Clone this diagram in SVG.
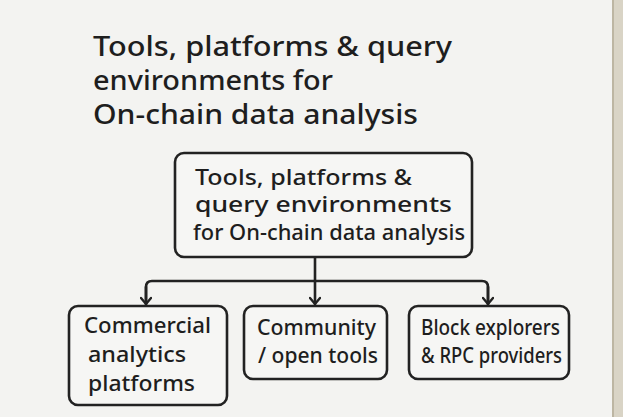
<svg xmlns="http://www.w3.org/2000/svg" width="623" height="417" viewBox="0 0 623 417">
<defs>
<marker id="ah" markerWidth="12" markerHeight="12" refX="9" refY="6" orient="auto" markerUnits="userSpaceOnUse" viewBox="0 0 12 12">
<path d="M3,1 L9,6 L3,11" fill="none" stroke="#222" stroke-width="2.4" stroke-linecap="round" stroke-linejoin="round"/>
</marker>
</defs>
<style>
.t{font-family:"Noto Sans","Open Sans",sans-serif;fill:#1e1e1e;font-weight:500}
.title{font-size:26.5px}
.lbl{font-size:22px}
.box{fill:#f6f6f4;stroke:#222;stroke-width:2.6}
.con{fill:none;stroke:#222;stroke-width:2.6;stroke-linejoin:round;stroke-linecap:round}
</style>
<rect width="623" height="417" fill="#f3f3f1"/>
<rect x="613" y="0" width="10" height="417" fill="#d9d4c6"/>
<rect x="612" y="0" width="2" height="417" fill="#bdb6a3"/>
<g id="title">
<text class="t title" x="93" y="56" textLength="359" lengthAdjust="spacingAndGlyphs">Tools, platforms &amp; query</text>
<text class="t title" x="93" y="90" textLength="240" lengthAdjust="spacingAndGlyphs">environments for</text>
<text class="t title" x="93" y="124" textLength="325" lengthAdjust="spacingAndGlyphs">On-chain data analysis</text>
</g>
<g id="connectors">
<path class="con" d="M315,258 V281"/>
<path class="con" d="M146,304 V287 Q146,281 152,281 H482 Q488,281 488,287 V304"/>
<path class="con" d="M146,287 V304" marker-end="url(#ah)"/>
<path class="con" d="M488,287 V304" marker-end="url(#ah)"/>
<path class="con" d="M315,281 V304" marker-end="url(#ah)"/>
</g>
<g id="root">
<rect class="box" x="175" y="153" width="297" height="104" rx="9"/>
<text class="t lbl" x="195" y="185" textLength="217" lengthAdjust="spacingAndGlyphs">Tools, platforms &amp;</text>
<text class="t lbl" x="195" y="212" textLength="257" lengthAdjust="spacingAndGlyphs">query environments</text>
<text class="t lbl" x="193" y="240" textLength="272" lengthAdjust="spacingAndGlyphs">for On-chain data analysis</text>
</g>
<g id="commercial">
<rect class="box" x="69" y="306" width="158" height="99" rx="9"/>
<text class="t lbl" x="84" y="333" textLength="127" lengthAdjust="spacingAndGlyphs">Commercial</text>
<text class="t lbl" x="88" y="362" textLength="98" lengthAdjust="spacingAndGlyphs">analytics</text>
<text class="t lbl" x="88" y="391" textLength="107" lengthAdjust="spacingAndGlyphs">platforms</text>
</g>
<g id="community">
<rect class="box" x="244" y="306" width="143" height="73" rx="9"/>
<text class="t lbl" x="257" y="335" textLength="119" lengthAdjust="spacingAndGlyphs">Community</text>
<text class="t lbl" x="258" y="363" textLength="120" lengthAdjust="spacingAndGlyphs">/ open tools</text>
</g>
<g id="explorers">
<rect class="box" x="409" y="306" width="160" height="73" rx="9"/>
<text class="t lbl" x="421" y="335" textLength="139" lengthAdjust="spacingAndGlyphs">Block explorers</text>
<text class="t lbl" x="421" y="363" textLength="141" lengthAdjust="spacingAndGlyphs">&amp; RPC providers</text>
</g>
</svg>
